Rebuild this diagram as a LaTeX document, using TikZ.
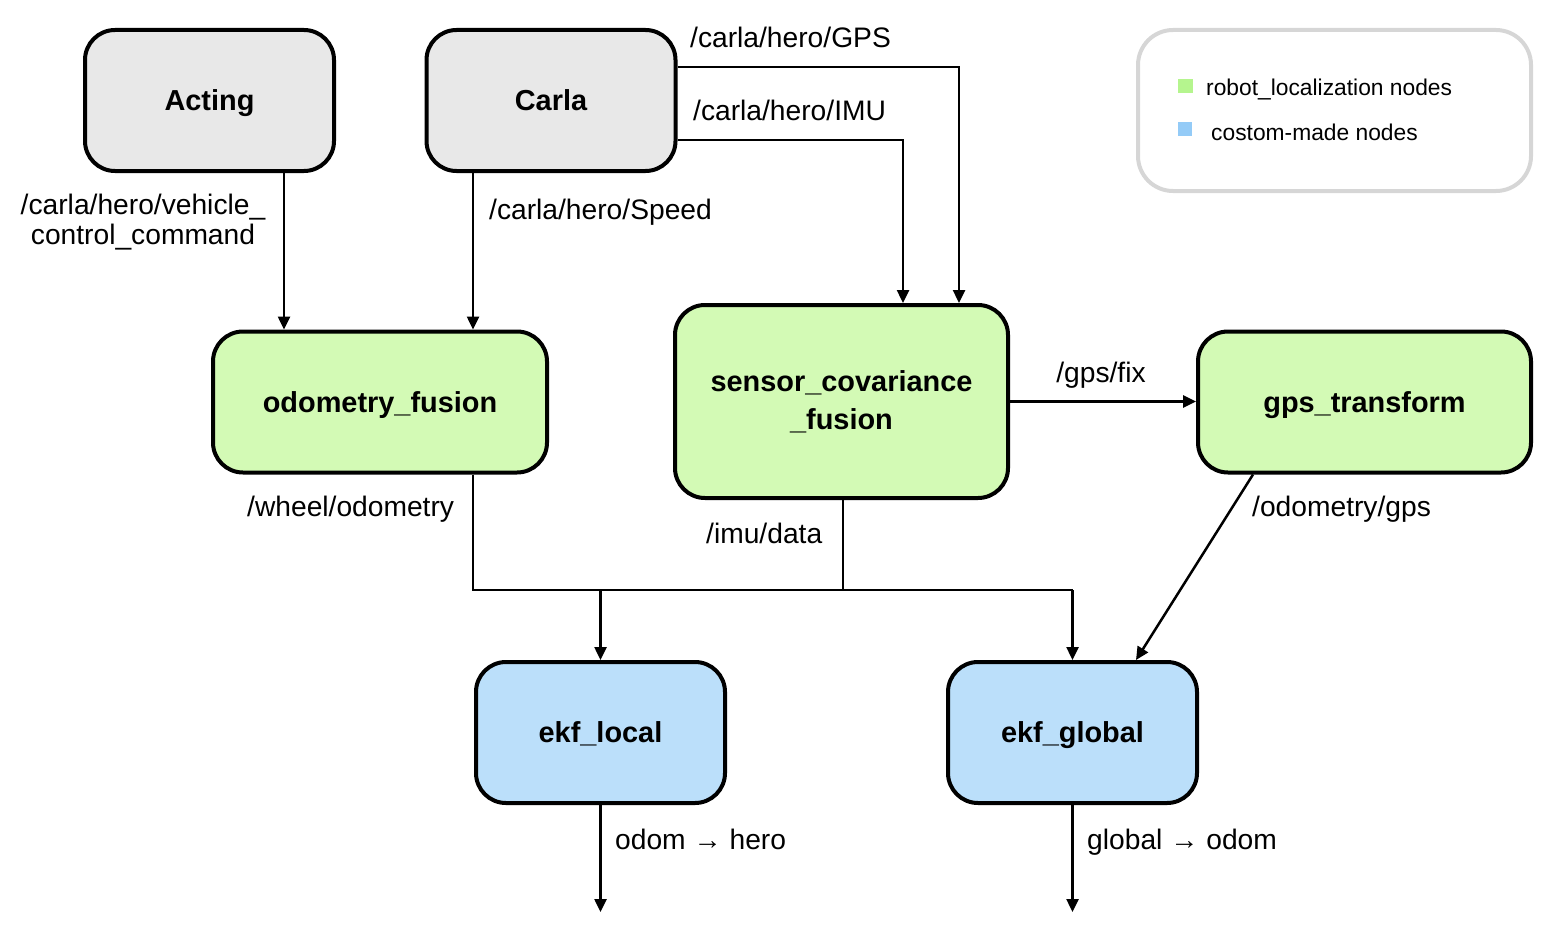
\documentclass[tikz,border=0pt]{standalone}
\usepackage{fontspec}
\setmainfont{Liberation Sans}
\usetikzlibrary{arrows.meta,calc}
\definecolor{greyfill}{HTML}{E8E8E8}
\definecolor{greenfill}{HTML}{D3FAB5}
\definecolor{bluefill}{HTML}{BBDFFA}
\definecolor{greenkey}{HTML}{B5F58E}
\definecolor{bluekey}{HTML}{94CBF7}
\definecolor{legendline}{HTML}{D6D6D6}
\tikzset{
  box/.style={draw=black, line width=4pt, rounded corners=30pt, align=center,
    font=\bfseries\fontsize{28.9}{38}\selectfont, inner sep=0pt},
  oneline/.style={text height=20.5pt, text depth=0pt},
  small/.style={minimum width=249pt, minimum height=141pt},
  wide/.style={minimum width=334pt, minimum height=141pt},
  conn/.style={line width=2.5pt},
  arr/.style={line width=2.5pt, -{Triangle[length=13pt,width=12pt]}},
  lab/.style={font=\fontsize{28.2}{30}\selectfont, inner sep=0pt},
  leg/.style={font=\fontsize{22.8}{26}\selectfont, inner sep=0pt, anchor=base west},
}
\begin{document}
\begin{tikzpicture}[x=1pt,y=-1pt]
\useasboundingbox (0,0) rectangle (1554,931);
% nodes
\node[box, oneline, small, fill=greyfill] (acting) at (209.5,100.5) {Acting};
\node[box, oneline, small, fill=greyfill] (carla) at (551,100.5) {Carla};
\node[box, oneline, wide, fill=greenfill] (odo) at (380,402) {odometry\_fusion};
\node[box, minimum width=333pt, minimum height=193pt, fill=greenfill] (sensor) at (841.5,401.5) {sensor\_covariance\\\_fusion};
\node[box, oneline, minimum width=333pt, minimum height=141pt, fill=greenfill] (gps) at (1364.5,402) {gps\_transform};
\node[box, oneline, small, fill=bluefill] (elocal) at (600.5,732.5) {ekf\_local};
\node[box, oneline, small, fill=bluefill] (eglobal) at (1072.5,732.5) {ekf\_global};
% legend
\node[draw=legendline, line width=4pt, rounded corners=35pt, minimum width=393pt, minimum height=161pt] (legend) at (1334.5,110.5) {};
\fill[greenkey] (1178,79) rectangle (1193,93);
\fill[bluekey] (1178,122) rectangle (1192,136);
\node[leg] (lg1) at (1206,96) {robot\_localization nodes};
\node[leg] (lg2) at (1211,140) {costom-made nodes};
% coordinates
\coordinate (busR) at (1072.5,590);
\coordinate (outL) at (600.5,912);
\coordinate (outR) at (1072.5,912);
% connectors
\draw[arr] ([xshift=74.5pt]acting.south) -- ([xshift=-96pt]odo.north);
\draw[arr] ([xshift=-78pt]carla.south) -- ([xshift=93pt]odo.north);
\draw[arr] ([yshift=33.5pt]carla.east) -| ([xshift=117.5pt]sensor.north);
\draw[arr] ([yshift=-39.5pt]carla.east) -| ([xshift=61.5pt]sensor.north);
\draw[arr] (sensor.east) -- (sensor.east -| gps.west);
\draw[conn] ([xshift=93pt]odo.south) |- (busR);
\draw[conn] ([xshift=1.5pt]sensor.south) -- ([xshift=1.5pt]sensor.south |- busR);
\draw[arr] (elocal.north |- busR) -- (elocal.north);
\draw[arr] (busR) -- (eglobal.north);
\draw[arr] ([xshift=-111.5pt]gps.south) -- ([xshift=63.5pt]eglobal.north);
\draw[arr] (elocal.south) -- (outL);
\draw[arr] (eglobal.south) -- (outR);
% labels
\node[lab, align=center] (l1) at (143,222) {/carla/hero/vehicle\_\\control\_command};
\node[lab, anchor=base west] (l2) at (489,219) {/carla/hero/Speed};
\node[lab, anchor=base west] (l3) at (690,48) {/carla/hero/GPS};
\node[lab, anchor=base west] (l4) at (693,121) {/carla/hero/IMU};
\node[lab, anchor=base] (l5) at (1101,382) {/gps/fix};
\node[lab, anchor=base west] (l6) at (247,516) {/wheel/odometry};
\node[lab, anchor=base west] (l7) at (706,543) {/imu/data};
\node[lab, anchor=base west] (l8) at (1252,516) {/odometry/gps};
\node[lab, anchor=base west] (l9) at (615,849) {odom \textbf{→} hero};
\node[lab, anchor=base west] (l10) at (1087,849) {global \textbf{→} odom};
\end{tikzpicture}
\end{document}
